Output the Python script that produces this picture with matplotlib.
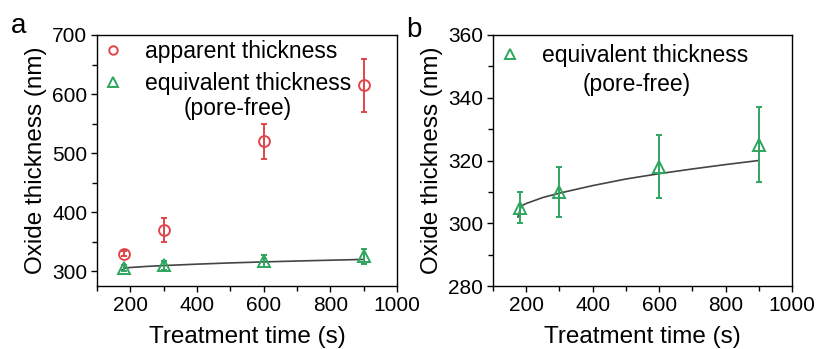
import numpy as np
import matplotlib
matplotlib.use('Agg')
import matplotlib.pyplot as plt
from matplotlib.ticker import MultipleLocator

plt.rcParams['font.family'] = ['Liberation Sans', 'DejaVu Sans']

# ---- data ----
time_s = [180, 300, 600, 900]
apparent = [330, 370, 520, 615]
apparent_err = [5, 20, 30, 45]
equivalent = [305, 310, 318, 325]
equivalent_err = [5, 8, 10, 12]

# fitted curve (traced)
fit_t = [175, 185, 200, 250, 300, 400, 500, 600, 700, 800, 900]
fit_y = [302, 305.5, 306.3, 308.2, 309.6, 312.0, 314.1, 315.8, 317.3, 318.7, 320.0]

RED = '#e0454a'
GREEN = '#2fa65f'
LINE = '#444444'
W, H = 816, 349

fig = plt.figure(figsize=(W / 100, H / 100), dpi=100)
ax_a = fig.add_axes([97 / W, 1 - 286 / H, 300 / W, 251 / H])
ax_b = fig.add_axes([493 / W, 1 - 286 / H, 299 / W, 251 / H])

eb_kw = dict(mfc='none', mew=1.4, elinewidth=1.4, capsize=2.3, capthick=1.4, zorder=3)


def style(ax):
    ax.tick_params(which='both', direction='out', labelsize=15, width=1.0,
                   top=False, right=False, pad=2.5)
    ax.tick_params(which='major', length=4.5)
    ax.tick_params(which='minor', length=3.5)
    for s in ax.spines.values():
        s.set_linewidth(1.0)
    ax.set_xlim(100, 1000)
    ax.xaxis.set_major_locator(MultipleLocator(200))
    ax.xaxis.set_minor_locator(MultipleLocator(100))
    ax.set_xlabel('Treatment time (s)', fontsize=17.5)
    ax.set_ylabel('Oxide thickness (nm)', fontsize=17.5)
    ax.xaxis.set_label_coords(0.5, -0.16)
    ax.yaxis.set_label_coords(-0.168, 0.5)


def add_legend(handles, labels, x_marker, y_top):
    return fig.legend(handles, labels, loc='upper left',
                      bbox_to_anchor=(x_marker / W, 1 - y_top / H),
                      frameon=False, fontsize=16.5, handletextpad=0.9,
                      labelspacing=0.38, handlelength=1.0, borderpad=0.0,
                      markerscale=0.78)


# ---- panel a ----
ax = ax_a
h1 = ax.errorbar(time_s, apparent, yerr=apparent_err, fmt='o', mec=RED,
                 ecolor=RED, ms=7.8, **eb_kw)
h2 = ax.errorbar(time_s, equivalent, yerr=equivalent_err, fmt='^', mec=GREEN,
                 ecolor=GREEN, ms=9.3, **eb_kw)
ax.plot(fit_t, fit_y, color=LINE, lw=1.2, zorder=2)
ax.set_ylim(275, 700)
ax.yaxis.set_major_locator(MultipleLocator(100))
ax.yaxis.set_minor_locator(MultipleLocator(50))
style(ax)
add_legend([h1[0], h2[0]], ['apparent thickness', 'equivalent thickness'], 90, 29)
fig.text(238 / W, 1 - 108 / H, '(pore-free)', fontsize=16.5, ha='center', va='center')
fig.text(11 / W, 1 - 33 / H, 'a', fontsize=20, va='baseline', ha='left')

# ---- panel b ----
ax = ax_b
h3 = ax.errorbar(time_s, equivalent, yerr=equivalent_err, fmt='^', mec=GREEN,
                 ecolor=GREEN, ms=9.3, **eb_kw)
ax.plot(fit_t, fit_y, color=LINE, lw=1.2, zorder=2)
ax.set_ylim(280, 360)
ax.yaxis.set_major_locator(MultipleLocator(20))
ax.yaxis.set_minor_locator(MultipleLocator(10))
style(ax)
add_legend([h3[0]], ['equivalent thickness'], 487, 33)
fig.text(637 / W, 1 - 84 / H, '(pore-free)', fontsize=16.5, ha='center', va='center')
fig.text(406 / W, 1 - 37 / H, 'b', fontsize=20, va='baseline', ha='left')

fig.savefig('out.png', dpi=100)
